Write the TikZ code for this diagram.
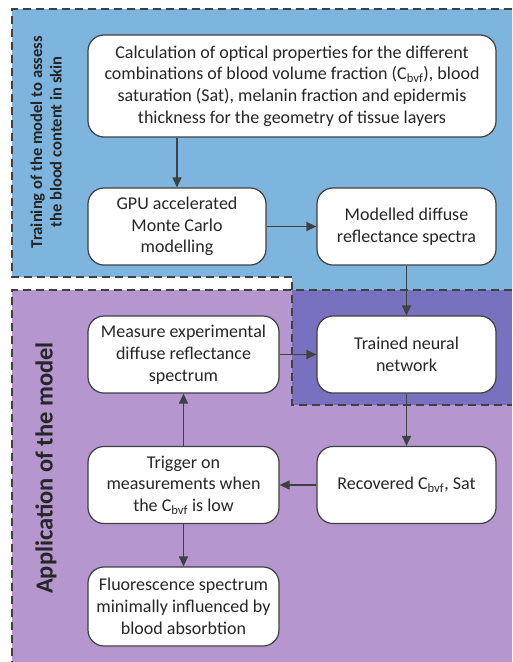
\documentclass[tikz,border=0pt]{standalone}
\usepackage{fontspec}
\setmainfont{Carlito}
\usetikzlibrary{positioning, arrows.meta}

\definecolor{trainblue}{HTML}{7DB5DF}
\definecolor{applypurple}{HTML}{B596CF}
\definecolor{overlapviolet}{HTML}{7771BF}
\definecolor{linegray}{HTML}{404040}

\begin{document}
\begin{tikzpicture}[
    x=1pt, y=-1pt,
    >={Triangle[length=10pt, width=9pt]},
    on grid,
    box/.style={draw=linegray, line width=1.2pt, fill=white, rounded corners=16pt,
        align=center, text=black!85, inner sep=2pt,
        font=\fontsize{18}{21.7}\selectfont},
    region/.style={draw=linegray, line width=1.4pt, dash pattern=on 8pt off 5pt},
    flow/.style={->, draw=linegray, line width=1.2pt},
    sidelabel/.style={rotate=90, align=center, text=black!85}
]
\useasboundingbox (0,0) rectangle (512,662);

% Hintergrundflaechen
\fill[applypurple] (12,290) rectangle (512,662);
\fill[trainblue] (12,9) -- (512,9) -- (512,290) -- (292,290) -- (292,277) -- (12,277) -- cycle;
\fill[overlapviolet] (292,290) rectangle (512,405);

% gestrichelte Rahmen
\draw[region] (512,9) -- (12,9) -- (12,277) -- (292,277) -- (292,405) -- (512,405);
\draw[region] (512,290) -- (12,290) -- (12,662);

% Beschriftung der Bereiche
\node[sidelabel, font=\bfseries\fontsize{16.6}{19.5}\selectfont] (trainlabel) at (46,142)
    {Training of the model to assess\\the blood content in skin};
\node[sidelabel, font=\bfseries\fontsize{24.5}{28}\selectfont] (applylabel) at (46,468)
    {Application of the model};

% Knoten
\node[box, minimum width=408pt, minimum height=102pt] (optics) at (292,86)
    {Calculation of optical properties for the different\\
     combinations of blood volume fraction (C\textsubscript{bvf}), blood\\
     saturation (Sat), melanin fraction and epidermis\\
     thickness for the geometry of tissue layers};
\node[box, minimum width=178pt, minimum height=77pt] (gpu) at (177,226.5)
    {GPU accelerated\\Monte Carlo\\modelling};
\node[box, minimum width=179pt, minimum height=77pt, right=229.5pt of gpu] (spectra)
    {Modelled diffuse\\reflectance spectra};
\node[box, minimum width=179pt, minimum height=77pt, below=128pt of spectra] (network)
    {Trained neural\\network};
\node[box, minimum width=179pt, minimum height=77pt, below=130.5pt of network] (recovered)
    {Recovered C\textsubscript{bvf}, Sat};
\node[box, minimum width=191pt, minimum height=77pt] (measure) at (183.5,354.5)
    {Measure experimental\\diffuse reflectance\\spectrum};
\node[box, minimum width=191pt, minimum height=77pt, below=130.5pt of measure] (trigger)
    {Trigger on\\measurements when\\the C\textsubscript{bvf} is low};
\node[box, minimum width=191pt, minimum height=79pt, below=121.5pt of trigger] (fluor)
    {Fluorescence spectrum\\minimally influenced by\\blood absorbtion};

% Pfeile
\draw[flow] (optics.south -| gpu.north) -- (gpu.north);
\draw[flow] (gpu) -- (spectra);
\draw[flow] (spectra) -- (network);
\draw[flow] (measure) -- (network);
\draw[flow] (network) -- (recovered);
\draw[flow] (recovered) -- (trigger);
\draw[flow] (trigger) -- (measure);
\draw[flow] (trigger) -- (fluor);

\end{tikzpicture}
\end{document}
